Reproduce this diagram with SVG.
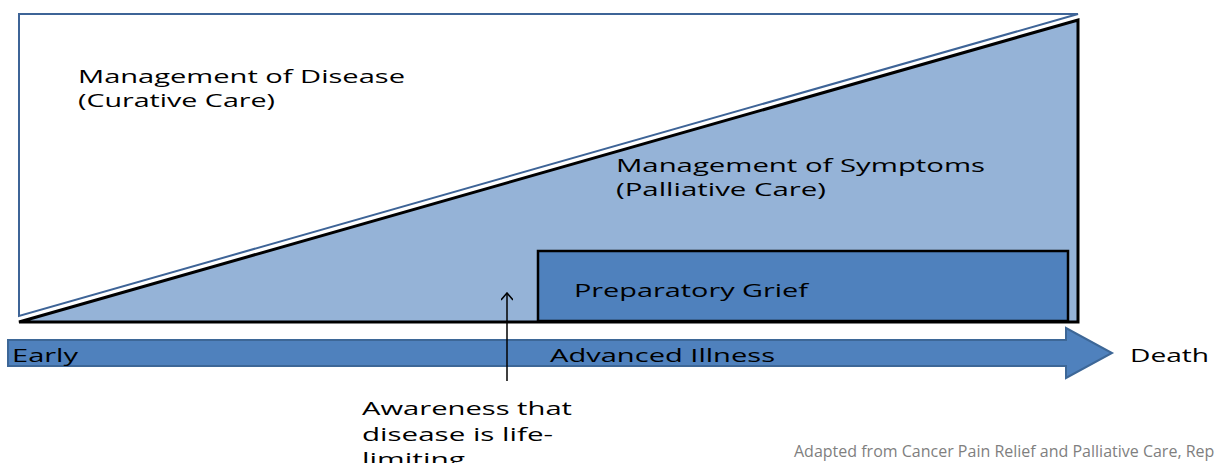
<svg xmlns="http://www.w3.org/2000/svg" width="1217" height="463" viewBox="0 0 1217 463">
<style>
.t{font-family:"Open Sans","DejaVu Sans",sans-serif;font-size:19px;fill:#000}
.src{font-family:"Open Sans","Liberation Sans",sans-serif;font-size:16px;fill:#7f7f7f}
</style>
<defs>
<marker id="ah" viewBox="0 0 10 12" refX="9" refY="6" markerWidth="10" markerHeight="12" markerUnits="userSpaceOnUse" orient="auto">
<path d="M2,0 L9,6 L2,12" fill="none" stroke="#000" stroke-width="1.5"/>
</marker>
</defs>
<rect width="1217" height="463" fill="#fff"/>
<g id="curative">
<polygon points="19,14 1078,14 19,316" fill="#fff" stroke="#3e6497" stroke-width="2"/>
<text class="t" x="78" y="83" textLength="327" lengthAdjust="spacingAndGlyphs">Management of Disease</text>
<text class="t" x="78" y="107" textLength="197" lengthAdjust="spacingAndGlyphs">(Curative Care)</text>
</g>
<g id="palliative">
<polygon points="19,322 1078,20 1078,322" fill="#95b3d7" stroke="#000" stroke-width="3" stroke-linejoin="miter"/>
<text class="t" x="616" y="172" textLength="369" lengthAdjust="spacingAndGlyphs">Management of Symptoms</text>
<text class="t" x="616" y="196" textLength="210" lengthAdjust="spacingAndGlyphs">(Palliative Care)</text>
</g>
<g id="grief">
<rect x="538" y="251" width="530" height="70" fill="#4f81bd" stroke="#000" stroke-width="2.5"/>
<text class="t" x="574" y="297" textLength="234" lengthAdjust="spacingAndGlyphs">Preparatory Grief</text>
</g>
<g id="timeline">
<polygon points="8,340 1066,340 1066,328 1112,353 1066,378 1066,366 8,366" fill="#4f81bd" stroke="#3d6797" stroke-width="2"/>
<text class="t" x="12" y="362" textLength="66" lengthAdjust="spacingAndGlyphs">Early</text>
<text class="t" x="550" y="362" textLength="225" lengthAdjust="spacingAndGlyphs">Advanced Illness</text>
</g>
<g id="death">
<text class="t" x="1130" y="362" textLength="79" lengthAdjust="spacingAndGlyphs">Death</text>
</g>
<g id="connectors">
<line x1="507" y1="381" x2="507" y2="293" stroke="#000" stroke-width="1.5" marker-end="url(#ah)"/>
</g>
<g id="awareness">
<text class="t" x="362" y="415" textLength="210" lengthAdjust="spacingAndGlyphs">Awareness that</text>
<text class="t" x="362" y="441" textLength="191" lengthAdjust="spacingAndGlyphs">disease is life-</text>
<text class="t" x="362" y="466" textLength="103" lengthAdjust="spacingAndGlyphs">limiting</text>
</g>
<g id="source">
<text class="src" x="794" y="457">Adapted from Cancer Pain Relief and Palliative Care, Rep</text>
</g>
</svg>
